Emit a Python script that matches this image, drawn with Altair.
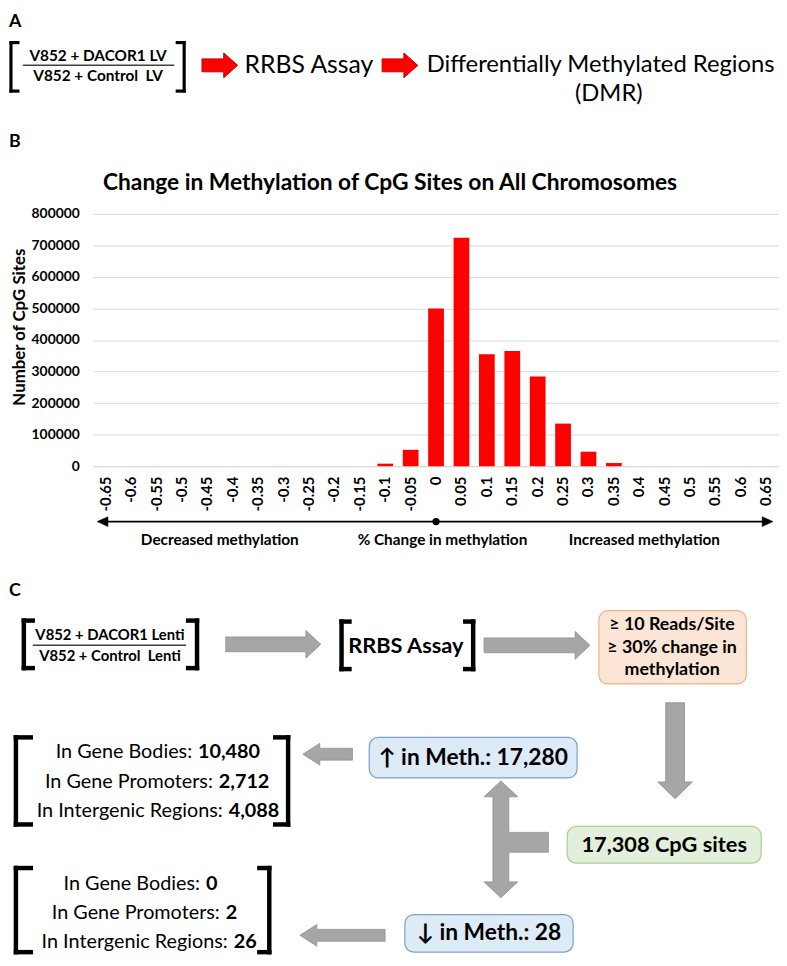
import altair as alt
import pandas as pd

# ---------------- data ----------------
change_bins = ["-0.65", "-0.6", "-0.55", "-0.5", "-0.45", "-0.4", "-0.35", "-0.3",
               "-0.25", "-0.2", "-0.15", "-0.1", "-0.05", "0", "0.05", "0.1", "0.15",
               "0.2", "0.25", "0.3", "0.35", "0.4", "0.45", "0.5", "0.55", "0.6", "0.65"]
cpg_counts = [0, 0, 0, 0, 0, 0, 0, 0, 0, 0, 0, 8000, 52000, 500000, 724000, 355000,
              365000, 284000, 135000, 46000, 10000, 0, 0, 0, 0, 0, 0]
y_ticks = [0, 100000, 200000, 300000, 400000, 500000, 600000, 700000, 800000]

region_names = ["In Gene Bodies", "In Gene Promoters", "In Intergenic Regions"]
up_counts = [10480, 2712, 4088]
down_counts = [0, 2, 26]
total_sites = 17308
up_total = 17280
down_total = 28

chart_title = "Change in Methylation of CpG Sites on All Chromosomes"
y_title = "Number of CpG Sites"
axis_notes = ["Decreased methylation", "% Change in methylation", "Increased methylation"]

# ---------------- layout (page pixels) ----------------
FONT = "Lato"
X0, Y0 = 93, 211          # page position of the bar plot origin
PLOT_W, PLOT_H = 693, 255
GREY = "#a6a6a6"
NB = "\u00a0"


def px(v):
    return v - X0


def py(v):
    return v - Y0


XN = dict(scale=None, axis=None)

layers = []

# invisible anchor fixing the page extent
anchor_df = pd.DataFrame({"x": [px(8)], "y": [py(8)], "x2": [px(786)], "y2": [py(958)]})
layers.append(alt.Chart(anchor_df).mark_rect(fill="transparent", strokeWidth=0).encode(
    x=alt.X("x:Q", **XN), y=alt.Y("y:Q", **XN), x2="x2:Q", y2="y2:Q"))

# ---------------- bar chart ----------------
band = alt.Scale(domain=change_bins, paddingInner=0.38, paddingOuter=0.19)
bar_df = pd.DataFrame({"bin": change_bins, "count": cpg_counts})
bars = alt.Chart(bar_df).mark_bar(color="#ff0000").encode(
    x=alt.X("bin:N", sort=change_bins, scale=band,
            axis=alt.Axis(title=None, labelAngle=-90, labelFont=FONT, labelFontWeight="bold",
                          labelFontSize=15, labelColor="black", labelPadding=10, ticks=False,
                          tickSize=0, domainColor="#d9d9d9", grid=False, labelOverlap=False)),
    y=alt.Y("count:Q", scale=alt.Scale(domain=[0, 800000], nice=False),
            axis=alt.Axis(title=y_title, values=y_ticks, format="d", grid=True,
                          gridColor="#d9d9d9", domain=False, ticks=False, tickSize=0,
                          labelFont=FONT, labelFontWeight="bold", labelFontSize=14,
                          labelColor="black", labelPadding=14, titleFont=FONT,
                          titleFontSize=17, titleFontWeight="bold", titleColor="black",
                          titleX=px(19), titleY=py(325), titleBaseline="middle")),
)
layers.append(bars)

# dot at 0 on the arrow line, placed through the same band scale
dot_df = pd.DataFrame({"bin": ["0"]})
layers.append(alt.Chart(dot_df).mark_point(filled=True, color="black", size=55, opacity=1).encode(
    x=alt.X("bin:N", sort=change_bins, scale=band, axis=None),
    y=alt.value(py(522))))

# ---------------- line segments (brackets, fraction bars, axis arrow) ----------------
def bracket(x, y1, y2, serif, side):
    s = serif if side == "left" else -serif
    return [(x, y1, x, y2), (x, y1, x + s, y1), (x, y2, x + s, y2)]


def seg_layer(rows, width, color, cap="square"):
    df = pd.DataFrame(rows, columns=["x", "y", "x2", "y2"])
    df["x"] = df["x"].map(px)
    df["x2"] = df["x2"].map(px)
    df["y"] = df["y"].map(py)
    df["y2"] = df["y2"].map(py)
    return alt.Chart(df).mark_rule(strokeWidth=width, color=color, strokeCap=cap).encode(
        x=alt.X("x:Q", **XN), y=alt.Y("y:Q", **XN), x2="x2:Q", y2="y2:Q")


thin_brackets = bracket(10, 38, 87, 7, "left") + bracket(185, 38, 87, 7, "right")
layers.append(seg_layer(thin_brackets, 3.2, "black"))

thick_brackets = (bracket(23, 622, 670, 9, "left") + bracket(198, 622, 670, 9, "right")
                  + bracket(344, 623, 671, 8, "left") + bracket(477, 623, 671, 8, "right")
                  + bracket(15, 740, 828, 15, "left") + bracket(290, 740, 828, 13, "right")
                  + bracket(15, 872, 957, 15, "left") + bracket(271, 872, 957, 10, "right"))
layers.append(seg_layer(thick_brackets, 4.5, "black"))

fraction_lines = [(22, 61, 175, 61), (32, 647, 187, 647)]
layers.append(seg_layer(fraction_lines, 1.5, "#404040", cap="butt"))

axis_line = [(104, 522, 773, 522)]
layers.append(seg_layer(axis_line, 2, "black", cap="butt"))


# ---------------- block arrows (custom path symbols, size 4 -> 1 unit = 1 px) ----------------
def h_arrow(length, body_h, head_h, head_len, direction="right"):
    L = length / 2
    b, h = body_h / 2, head_h / 2
    pts = [(-L, -b), (L - head_len, -b), (L - head_len, -h), (L, 0),
           (L - head_len, h), (L - head_len, b), (-L, b)]
    if direction == "left":
        pts = [(-x, y) for x, y in pts]
    return "M" + "L".join(f"{x:.1f},{y:.1f}" for x, y in pts) + "Z"


def v_arrow(length, body_w, head_w, head_len):
    L = length / 2
    b, h = body_w / 2, head_w / 2
    pts = [(-b, -L), (b, -L), (b, L - head_len), (h, L - head_len), (0, L),
           (-h, L - head_len), (-b, L - head_len)]
    return "M" + "L".join(f"{x:.1f},{y:.1f}" for x, y in pts) + "Z"


def shape_layer(path, cx, cy, fill, stroke, sw=1.0):
    return alt.Chart(pd.DataFrame({"k": [0]})).mark_point(
        shape=path, size=4, filled=True, fill=fill, stroke=stroke, strokeWidth=sw,
        opacity=1).encode(x=alt.value(px(cx)), y=alt.value(py(cy)))


# red arrows in panel A
layers.append(shape_layer(h_arrow(36, 13, 25, 14), 221, 61, "#ff0000", "#c00000"))
layers.append(shape_layer(h_arrow(36, 13, 25, 14), 403, 61, "#ff0000", "#c00000"))
# axis arrow heads
layers.append(shape_layer("M0,0L11,-5L11,5Z", 97, 522, "black", "black", 0.5))
layers.append(shape_layer("M0,0L-11,-5L-11,5Z", 780, 522, "black", "black", 0.5))
# grey arrows in panel C
layers.append(shape_layer(h_arrow(96, 15, 28, 15), 275, 646, GREY, "#8f8f8f", 0.8))
layers.append(shape_layer(h_arrow(107, 15, 28, 15), 541.5, 647, GREY, "#8f8f8f", 0.8))
layers.append(shape_layer(v_arrow(97, 19, 35, 17), 681, 753.5, GREY, "#8f8f8f", 0.8))
layers.append(shape_layer(h_arrow(50, 12, 22, 17, "left"), 330, 757, GREY, "#8f8f8f", 0.8))
layers.append(shape_layer(h_arrow(86, 12, 22, 17, "left"), 345, 940, GREY, "#8f8f8f", 0.8))
t_path = ("M0,-59L17,-43L8,-43L8,-7L48,-7L48,13L8,13L8,43L17,43L0,59"
          "L-17,43L-8,43L-8,-43L-17,-43Z")
layers.append(shape_layer(t_path, 505, 843, GREY, "#8f8f8f", 0.8))

# ---------------- rounded boxes ----------------
boxes = pd.DataFrame([
    (604, 612, 753, 686, "#fbe5d6", "#f4b183"),
    (572, 830, 768, 867, "#e2efda", "#a9d18e"),
    (372, 740, 582, 781, "#ddebf7", "#7f9fcc"),
    (408, 919, 578, 957, "#ddebf7", "#7f9fcc"),
], columns=["x", "y", "x2", "y2", "f", "s"])
for c in ["x", "x2"]:
    boxes[c] = boxes[c].map(px)
for c in ["y", "y2"]:
    boxes[c] = boxes[c].map(py)
layers.append(alt.Chart(boxes).mark_rect(cornerRadius=9, strokeWidth=1.2).encode(
    x=alt.X("x:Q", **XN), y=alt.Y("y:Q", **XN), x2="x2:Q", y2="y2:Q",
    fill=alt.Fill("f:N", scale=None), stroke=alt.Stroke("s:N", scale=None)))

# ---------------- texts ----------------
texts = [
    # panel A
    ("A", 8, 17, 18, "bold", "left"),
    ("V852 + DACOR1 LV", 98, 52, 15.5, "bold", "center"),
    ("V852 + Control" + NB + " LV", 98, 72, 15.5, "bold", "center"),
    ("RRBS Assay", 311, 61, 25, "normal", "center"),
    ("Differentially Methylated Regions", 430, 61, 24, "normal", "left"),
    ("(DMR)", 614, 90, 24, "normal", "center"),
    # panel B
    ("B", 8, 139, 18, "bold", "left"),
    (chart_title, 393, 180, 23, "bold", "center"),
    (axis_notes[0], 221, 541, 15.5, "bold", "center"),
    (axis_notes[1], 446, 541, 15.5, "bold", "center"),
    (axis_notes[2], 650, 541, 15.5, "bold", "center"),
    # panel C
    ("C", 8, 592, 18, "bold", "left"),
    ("V852 + DACOR1 Lenti", 110, 637, 15, "bold", "center"),
    ("V852 + Control" + NB + " Lenti", 110, 658, 15, "bold", "center"),
    ("RRBS Assay", 409, 648, 22, "bold", "center"),
    ("\u2265 10 Reads/Site", 678, 627, 18, "bold", "center"),
    ("\u2265 30% change in", 678, 650, 18, "bold", "center"),
    ("methylation", 678, 672, 18, "bold", "center"),
    (f"{total_sites:,} CpG sites", 670, 849, 22, "bold", "center"),
    (f"\u2191 in Meth.: {up_total:,}", 477, 761, 23, "bold", "center"),
    (f"\u2193 in Meth.: {down_total:,}", 493, 938, 23, "bold", "center"),
]
up_label_end = [193, 214, 224]
up_ys = [755, 785, 814]
down_label_end = [201, 221, 229]
down_ys = [888, 918, 947]
for name, n, xe, yy in zip(region_names, up_counts, up_label_end, up_ys):
    texts.append((name + ":", xe, yy, 20, "normal", "right"))
    texts.append((f"{n:,}", xe + 6, yy, 20, "bold", "left"))
for name, n, xe, yy in zip(region_names, down_counts, down_label_end, down_ys):
    texts.append((name + ":", xe, yy, 20, "normal", "right"))
    texts.append((f"{n:,}", xe + 6, yy, 20, "bold", "left"))

tdf = pd.DataFrame(texts, columns=["t", "x", "y", "s", "w", "a"])
tdf["x"] = tdf["x"].map(px)
tdf["y"] = tdf["y"].map(py)
for (w, a), g in tdf.groupby(["w", "a"]):
    layers.append(alt.Chart(g).mark_text(font=FONT, fontWeight=w, align=a, baseline="middle",
                                         color="black").encode(
        x=alt.X("x:Q", **XN), y=alt.Y("y:Q", **XN), text=alt.Text("t:N"),
        size=alt.Size("s:Q", scale=None)))

chart = alt.layer(*layers).resolve_scale(x="independent", y="independent").properties(
    width=PLOT_W, height=PLOT_H, padding=0, background="white"
).configure_view(stroke="transparent")

chart.save("out.html", embed_options={"renderer": "svg", "actions": False})
